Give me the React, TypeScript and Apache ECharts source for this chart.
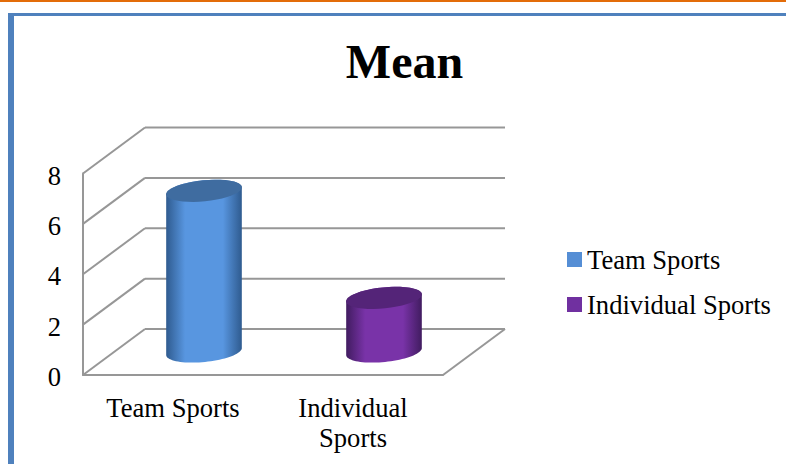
import React, { useEffect, useRef } from "react";
import * as echarts from "echarts";

const titleText = "Mean";
const categories = ["Team Sports", "Individual Sports"];
const axisCategories = ["Team Sports", "Individual\nSports"];
const teamValues = [[0, 6.4]];
const individualValues = [[1, 2.15]];
const yTicks = [0, 2, 4, 6, 8];

const FONT = "'Liberation Serif', 'Times New Roman', serif";
const DEPTH_X = 62;
const DEPTH_Y = -46;
const GRID_COLOR = "#979797";

const hGrad = (edgeL: string, mid: string, edgeR: string) => ({
  type: "linear", x: 0, y: 0, x2: 1, y2: 0,
  colorStops: [
    { offset: 0, color: edgeL },
    { offset: 0.25, color: mid },
    { offset: 0.5, color: mid },
    { offset: 0.75, color: mid },
    { offset: 1, color: edgeR },
  ],
});

const arc = (cx: number, cy: number, rx: number, ry: number, rot: number, from: number, to: number) => {
  const pts: number[][] = [];
  const n = 40;
  for (let i = 0; i <= n; i++) {
    const t = from + ((to - from) * i) / n;
    const ex = rx * Math.cos(t);
    const ey = ry * Math.sin(t);
    pts.push([cx + ex * Math.cos(rot) + ey * Math.sin(rot), cy - ex * Math.sin(rot) + ey * Math.cos(rot)]);
  }
  return pts;
};

const cylinderRender = (body: any, cap: string) => (params: any, api: any) => {
  const c = api.value(0);
  const v = api.value(1);
  const top = api.coord([c, v]);
  const base = api.coord([c, 0]);
  const cx = top[0] + DEPTH_X / 2;
  const topY = top[1] + DEPTH_Y / 2;
  const baseY = base[1] + DEPTH_Y / 2 - 0.5;
  const rx = 38;
  const ry = 10.5;
  const rot = 0.1;
  const outline = [
    ...arc(cx, baseY, rx, ry, rot, 0, Math.PI),
    ...arc(cx, topY, rx, ry, rot, Math.PI, 2 * Math.PI),
  ];
  return {
    type: "group",
    children: [
      { type: "polygon", shape: { points: outline }, style: { fill: body } },
      {
        type: "polygon",
        shape: { points: arc(cx, topY, rx, ry, rot, 0, 2 * Math.PI) },
        style: { fill: cap },
      },
    ],
  };
};

export default function App() {
  const ref = useRef<HTMLDivElement>(null);
  useEffect(() => {
    const chart = echarts.init(ref.current!, undefined, { renderer: "svg" });
    chart.setOption({
      animation: false,
      backgroundColor: "#ffffff",
      textStyle: { fontFamily: FONT },
      title: {
        text: titleText, left: 399.5, top: 32, textAlign: "center",
        textStyle: { fontFamily: FONT, fontSize: 48, fontWeight: "bold", color: "#000" },
      },
      legend: {
        data: categories, orient: "vertical", left: 562, top: 241, itemWidth: 15, itemHeight: 15,
        itemGap: 18, itemTextGap: 6, itemStyle: { borderWidth: 0 },
        icon: "rect",
        textStyle: { fontFamily: FONT, fontSize: 26.6, color: "#000" },
        formatter: (n: string) => n,
      },
      grid: { left: 83, top: 173.5, width: 360, height: 201.5 },
      xAxis: {
        type: "category", data: axisCategories,
        axisLine: { show: true, lineStyle: { color: GRID_COLOR, width: 2 } },
        axisTick: { show: false }, splitLine: { show: false },
        axisLabel: { color: "#000", fontFamily: FONT, fontSize: 26.6, lineHeight: 30, margin: 18 },
      },
      yAxis: {
        type: "value", min: 0, max: 8, interval: 2,
        axisLine: { show: true, lineStyle: { color: GRID_COLOR, width: 2 } },
        axisTick: { show: false }, splitLine: { show: false },
        axisLabel: {
          color: "#000", margin: 22, formatter: "{n|{value}}",
          rich: { n: { fontFamily: FONT, fontSize: 26.6, color: "#000", padding: [4, 0, 0, 0] } },
        },
      },
      graphic: [
        { type: "rect", z: -1, shape: { x: 0, y: 0, width: 786, height: 2 }, style: { fill: "#E36C09" } },
        { type: "rect", z: -1, shape: { x: 8, y: 13, width: 778, height: 3 }, style: { fill: "#4F81BD" } },
        { type: "rect", z: -1, shape: { x: 8, y: 13, width: 6, height: 451 }, style: { fill: "#4F81BD" } },
      ],
      series: [
        {
          type: "custom", name: "walls", silent: true, z: 1,
          data: yTicks.map((t) => [0, t]),
          renderItem: (params: any, api: any) => {
            const v = api.value(1);
            const band = api.size([1, 0])[0];
            const p = api.coord([0, v]);
            const x0 = p[0] - band / 2;
            const y0 = p[1];
            const xEnd = x0 + band * 2;
            const lineStyle = { stroke: GRID_COLOR, lineWidth: 2, fill: "none" };
            const children: any[] = [
              { type: "line", shape: { x1: x0, y1: y0, x2: x0 + DEPTH_X, y2: y0 + DEPTH_Y }, style: lineStyle },
              { type: "line", shape: { x1: x0 + DEPTH_X, y1: y0 + DEPTH_Y, x2: xEnd + DEPTH_X, y2: y0 + DEPTH_Y }, style: lineStyle },
            ];
            if (v === 0) {
              children.push({ type: "line", shape: { x1: xEnd, y1: y0, x2: xEnd + DEPTH_X, y2: y0 + DEPTH_Y }, style: lineStyle });
            }
            return { type: "group", children };
          },
        },
        {
          type: "custom", name: categories[0], z: 3, data: teamValues,
          itemStyle: { color: "#558ED5" },
          renderItem: cylinderRender(hGrad("#2F5B8F", "#5896E0", "#2F5B8F"), "#3F6CA0"),
        },
        {
          type: "custom", name: categories[1], z: 3, data: individualValues,
          itemStyle: { color: "#7030A0" },
          renderItem: cylinderRender(hGrad("#411C60", "#7933A8", "#411C60"), "#542478"),
        },
      ],
    });
    return () => chart.dispose();
  }, []);
  return <div ref={ref} style={{ position: "absolute", left: 0, top: 0, width: 786, height: 464 }} />;
}
